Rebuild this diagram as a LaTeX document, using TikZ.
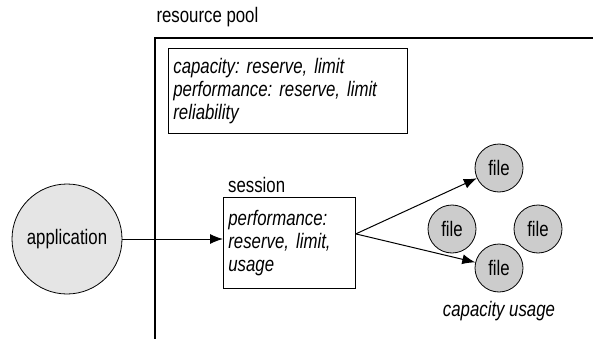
\documentclass[tikz,border=0pt]{standalone}
\usepackage{fontspec}
\setmainfont{Liberation Sans}[FakeStretch=0.8]
\usetikzlibrary{positioning,arrows.meta}
\frenchspacing

\tikzset{
  txt/.style={font=\fontsize{21}{23}\selectfont},
  note/.style={txt, font=\fontsize{21}{23}\selectfont\itshape, draw, line width=0.8pt, align=left, inner sep=5pt},
  app/.style={txt, circle, draw, line width=0.8pt, fill=black!10, minimum size=110pt, inner sep=0pt},
  filenode/.style={txt, circle, draw, line width=0.8pt, fill=black!20, minimum size=48pt, inner sep=0pt},
  arr/.style={line width=1pt, -{Latex[length=13pt,width=10pt]}}
}

\begin{document}
\begin{tikzpicture}[x=1pt,y=-1pt]
\useasboundingbox (0,0) rectangle (593,339);
% pool frame
\draw[line width=1.2pt] (155,339) -- (155,38) -- (593,38);
\node[txt, anchor=west] (poollabel) at (153,17) {resource pool};
\node[note, anchor=north west, minimum width=239pt, minimum height=85pt, text width=229pt] (poolprops) at (168,48)
  {capacity: reserve, limit\\performance: reserve, limit\\reliability};

\node[app] (application) at (67,239) {application};
\node[note, anchor=north west, minimum width=132pt, minimum height=91pt, text width=122pt] (session) at (223,197)
  {performance:\\reserve, limit,\\usage};
\node[txt, anchor=south west, inner sep=1pt] (sessionlabel) at ([xshift=4pt,yshift=3pt]session.north west) {session};

\node[filenode] (fileA) at (499,168) {file};
\node[filenode] (fileB) at (452,229) {file};
\node[filenode] (fileC) at (538,229) {file};
\node[filenode] (fileD) at (499,268) {file};
\node[txt, font=\fontsize{21}{23}\selectfont\itshape, below=5pt of fileD] (usage) {capacity usage};

\draw[arr] (application.east) -- (application.east -| session.west);
\draw[arr] ([yshift=9pt]session.east) -- (fileA);
\draw[arr] ([yshift=9pt]session.east) -- (fileD);
\end{tikzpicture}
\end{document}
